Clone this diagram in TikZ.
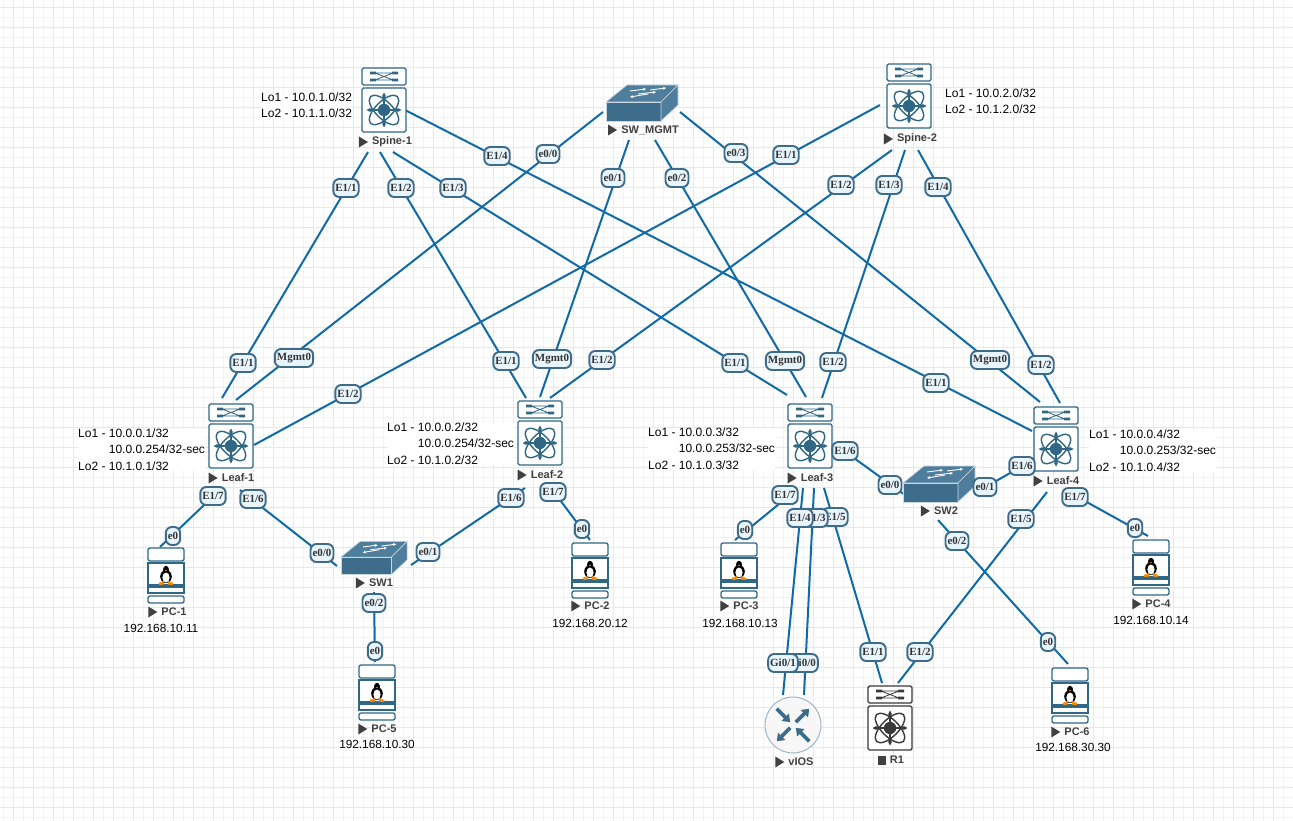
\documentclass[tikz,border=0pt]{standalone}
\usepackage{fontspec}
\setmainfont{Liberation Sans}
\newfontfamily\portfont{Liberation Serif}
\usetikzlibrary{arrows.meta}
\definecolor{linkc}{HTML}{0F6AA8}
\definecolor{devc}{HTML}{2F6785}
\definecolor{swfront}{HTML}{3E6D8C}
\definecolor{swtop}{HTML}{4E7E9C}
\definecolor{portb}{HTML}{3F6B8A}
\definecolor{portf}{HTML}{E9F5FD}
\definecolor{gmaj}{HTML}{E8E8E8}
\definecolor{gmin}{HTML}{F3F3F3}
\definecolor{darkdev}{HTML}{3A3A3A}
\tikzset{
  x=1pt,y=-1pt,
  link/.style={draw=linkc,line width=2pt},
  port/.style={draw=portb,fill=portf,line width=1.9pt,rounded corners=6pt,minimum height=18pt,inner sep=2pt,text=black!80,font=\portfont\bfseries\fontsize{11}{12}\selectfont},
  devname/.style={font=\bfseries\fontsize{11}{12}\selectfont,text=black!75,inner sep=0pt},
  ipt/.style={font=\fontsize{11.8}{13}\selectfont,text=black,inner sep=1pt},
  note/.style={fill=white,align=left,anchor=north west,inner sep=0pt,font=\fontsize{12}{16.6}\selectfont},
  anchorbox/.style={inner sep=0pt,minimum width=#1,minimum height=#1},
  pics/nexus/.style={code={
    \draw[#1,line width=1.4pt,rounded corners=1.5pt,fill=white] (-22,-42) rectangle (22,-25);
    \draw[#1,line width=1.4pt,rounded corners=1.5pt,fill=white] (-22,-22) rectangle (22,22);
    \draw[#1,line width=.8pt] (-9,-37) -- (9,-30) (-9,-30) -- (9,-37) (-14,-37) -- (14,-37) (-14,-30) -- (14,-30);
    \fill[#1] (-14,-38.4) rectangle (-8,-35.6) (8,-38.4) rectangle (14,-35.6) (-14,-31.4) rectangle (-8,-28.6) (8,-31.4) rectangle (14,-28.6);
    \draw[#1,line width=1.4pt,rotate=45] (0,0) ellipse (19 and 8.5);
    \draw[#1,line width=1.4pt,rotate=-45] (0,0) ellipse (19 and 8.5);
    \draw[#1,line width=1.1pt,-{Stealth[length=4.5pt,width=4.5pt]}] (0,0) -- (0,-17.5);
    \draw[#1,line width=1.1pt,-{Stealth[length=4.5pt,width=4.5pt]}] (0,0) -- (0,17.5);
    \draw[#1,line width=1.1pt,-{Stealth[length=4.5pt,width=4.5pt]}] (0,0) -- (-17.5,0);
    \draw[#1,line width=1.1pt,-{Stealth[length=4.5pt,width=4.5pt]}] (0,0) -- (17.5,0);
    \fill[#1] (0,0) circle (6.2);
  }},
  pics/swbox/.style={code={
    \fill[swtop,draw=white!70!swtop,line width=.6pt] (-36,-1) -- (-15,-18) -- (36,-18) -- (19,-1) -- cycle;
    \fill[swfront,draw=white!70!swtop,line width=.6pt] (-36,-1) rectangle (19,18);
    \fill[swtop,draw=white!70!swtop,line width=.6pt] (19,-1) -- (36,-18) -- (36,2) -- (19,18) -- cycle;
    \draw[white,line width=.9pt,-{Stealth[length=3pt,width=3pt]}] (-12,-12) -- (4,-14);
    \draw[white,line width=.9pt,-{Stealth[length=3pt,width=3pt]}] (8,-13) -- (24,-15);
    \draw[white,line width=.9pt,-{Stealth[length=3pt,width=3pt]}] (6,-9) -- (-12,-6);
    \draw[white,line width=.9pt,-{Stealth[length=3pt,width=3pt]}] (-4,-9) -- (14,-11);
  }},
  pics/tuxpc/.style={code={
    \draw[devc,line width=1.3pt,rounded corners=2pt,fill=white] (-18,-28) rectangle (18,-15);
    \draw[devc,line width=1.3pt,fill=white] (-18,-13) rectangle (18,9);
    \draw[devc,line width=1.3pt,fill=white] (-18,11) rectangle (18,17);
    \draw[devc,line width=1.3pt,rounded corners=2pt,fill=white] (-18,20) rectangle (18,27);
    \begin{scope}[yshift=-1pt]
    \fill[black] (0,-7.5) ellipse (3 and 3.7);
    \fill[black] (0,-0.5) ellipse (5.8 and 6.5);
    \fill[white] (0,0.5) ellipse (3.6 and 5);
    \fill[orange!90!yellow] (-7.5,6) -- (-1.8,4) -- (-2,7.5) -- (-6.5,8) -- cycle (7.5,6) -- (1.8,4) -- (2,7.5) -- (6.5,8) -- cycle;
    \fill[orange!90!yellow] (-1.2,-7.2) -- (1.2,-7.2) -- (0,-5.9) -- cycle;
    \end{scope}
  }},
  pics/vios/.style={code={
    \draw[white!50!swfront,line width=1pt,fill=black!3] (0,0) circle (28);
    \foreach \a in {45,225}{
      \draw[swfront,line width=3.6pt,-{Triangle[length=7pt,width=10pt]},rotate=\a] (4,0) -- (23,0);
    }
    \foreach \a in {135,315}{
      \draw[swfront,line width=3.6pt,-{Triangle[length=7pt,width=10pt]},rotate=\a] (23,0) -- (4,0);
    }
  }}
}
\newcommand{\playname}[4]{% name x y text
  \node[devname] (#1) at (#2,#3) {#4};
  \fill[black!75] ([xshift=-13pt,yshift=5.5pt]#1.west) -- ([xshift=-4pt]#1.west) -- ([xshift=-13pt,yshift=-5.5pt]#1.west) -- cycle;
}
\newcommand{\lnk}[6]{\draw[link] ([shift={(#2,#3)}]#1.center) -- ([shift={(#5,#6)}]#4.center);}
\begin{document}
\begin{tikzpicture}
\useasboundingbox (0,0) rectangle (1293,821);
\fill[white] (0,0) rectangle (1293,821);
% grid
\foreach \i in {0,...,64}{
  \draw[gmin,line width=.8pt] ({3.3+20*\i},0) -- ({3.3+20*\i},821);
  \draw[gmaj,line width=.9pt] ({13.3+20*\i},0) -- ({13.3+20*\i},821);
}
\foreach \i in {0,...,40}{
  \draw[gmin,line width=.8pt] (0,{17+20*\i}) -- (1293,{17+20*\i});
  \draw[gmaj,line width=.9pt] (0,{7+20*\i}) -- (1293,{7+20*\i});
}
% device anchors
\node[anchorbox=44pt] (spine1) at (384,110) {};
\node[anchorbox=44pt] (spine2) at (909,106) {};
\node[anchorbox=44pt] (leaf1) at (231,446) {};
\node[anchorbox=44pt] (leaf2) at (540,443) {};
\node[anchorbox=44pt] (leaf3) at (810,446) {};
\node[anchorbox=44pt] (leaf4) at (1056,449) {};
\node[anchorbox=44pt] (rone) at (890,728) {};
\node[anchorbox=56pt] (vios) at (793,725) {};
\node[anchorbox=36pt] (swmgmt) at (642,103) {};
\node[anchorbox=36pt] (swone) at (374,558) {};
\node[anchorbox=36pt] (swtwo) at (939,484) {};
\node[anchorbox=36pt] (pcone) at (166,576) {};
\node[anchorbox=36pt] (pctwo) at (590,571) {};
\node[anchorbox=36pt] (pcthree) at (739,571) {};
\node[anchorbox=36pt] (pcfour) at (1151,568) {};
\node[anchorbox=36pt] (pcfive) at (377,693) {};
\node[anchorbox=36pt] (pcsix) at (1070,696) {};
% notes
\node[note] at (261,92.5) {Lo1 - 10.0.1.0/32\\Lo2 - 10.1.1.0/32};
\node[note] at (945,88.5) {Lo1 - 10.0.2.0/32\\Lo2 - 10.1.2.0/32};
\node[note] at (78,428.5) {Lo1 - 10.0.0.1/32\\\phantom{Lo1 - }10.0.0.254/32-sec\\Lo2 - 10.1.0.1/32};
\node[note] at (387,422.5) {Lo1 - 10.0.0.2/32\\\phantom{Lo1 - }10.0.0.254/32-sec\\Lo2 - 10.1.0.2/32};
\node[note] at (648,427.5) {Lo1 - 10.0.0.3/32\\\phantom{Lo1 - }10.0.0.253/32-sec\\Lo2 - 10.1.0.3/32};
\node[note] at (1089,429.5) {Lo1 - 10.0.0.4/32\\\phantom{Lo1 - }10.0.0.253/32-sec\\Lo2 - 10.1.0.4/32};
% links
\lnk{spine1}{-16}{42}{leaf1}{-9}{-48}
\lnk{spine1}{-4}{42}{leaf2}{-14}{-45}
\lnk{spine1}{9}{42}{leaf3}{-23}{-51}
\lnk{spine1}{21}{0}{leaf4}{-24}{-18}
\lnk{spine2}{-29}{-1}{leaf1}{23}{-1}
\lnk{spine2}{-17}{44}{leaf2}{10}{-45}
\lnk{spine2}{-4}{44}{leaf3}{12}{-48}
\lnk{spine2}{9}{44}{leaf4}{4}{-46}
\lnk{swmgmt}{-39}{9}{leaf1}{5}{-46}
\lnk{swmgmt}{-13}{37}{leaf2}{0}{-46}
\lnk{swmgmt}{13}{37}{leaf3}{-4}{-49}
\lnk{swmgmt}{38}{9}{leaf4}{-16}{-47}
\lnk{leaf1}{-9}{42}{pcone}{-6}{-29}
\lnk{leaf1}{9}{44}{swone}{-37}{8}
\lnk{leaf2}{-15}{45}{swone}{37}{7}
\lnk{leaf2}{8}{41}{pctwo}{0}{-31}
\lnk{swone}{0}{34}{pcfive}{-2}{-31}
\lnk{leaf3}{-20}{49}{pcthree}{-4}{-31}
\lnk{leaf3}{-7}{42}{vios}{-10}{-30}
\lnk{leaf3}{4}{42}{vios}{11}{-30}
\lnk{leaf3}{14}{42}{rone}{-8}{-45}
\lnk{leaf3}{26}{-1}{swtwo}{-34}{11}
\lnk{swtwo}{36}{9}{leaf4}{-23}{11}
\lnk{swtwo}{-1}{36}{pcsix}{-2}{-32}
\lnk{leaf4}{-9}{43}{rone}{8}{-45}
\lnk{leaf4}{9}{41}{pcfour}{-3}{-32}
% devices
\pic at (spine1.center) {nexus=devc};
\pic at (spine2.center) {nexus=devc};
\pic at (leaf1.center) {nexus=devc};
\pic at (leaf2.center) {nexus=devc};
\pic at (leaf3.center) {nexus=devc};
\pic at (leaf4.center) {nexus=devc};
\pic at (rone.center) {nexus=darkdev};
\pic at (vios.center) {vios};
\pic at (swmgmt.center) {swbox};
\pic at (swone.center) [scale=.92] {swbox};
\pic at (swtwo.center) {swbox};
\pic at (pcone.center) {tuxpc};
\pic at (pctwo.center) {tuxpc};
\pic at (pcthree.center) {tuxpc};
\pic at (pcfour.center) {tuxpc};
\pic at (pcfive.center) {tuxpc};
\pic at (pcsix.center) {tuxpc};
% device names
\playname{nspine1}{392}{142}{Spine-1}
\playname{nspine2}{917}{139}{Spine-2}
\playname{nswmgmt}{650}{130}{SW\_MGMT}
\playname{nleaf1}{238}{478}{Leaf-1}
\playname{nleaf2}{547}{475}{Leaf-2}
\playname{nleaf3}{817}{478}{Leaf-3}
\playname{nleaf4}{1063}{481}{Leaf-4}
\playname{nswone}{381}{583}{SW1}
\playname{nswtwo}{946}{511}{SW2}
\playname{npcone}{174}{612}{PC-1}
\playname{npctwo}{597}{606}{PC-2}
\playname{npcthree}{746}{606}{PC-3}
\playname{npcfour}{1158}{604}{PC-4}
\playname{npcfive}{384}{729}{PC-5}
\playname{npcsix}{1077}{732}{PC-6}
\playname{nvios}{801}{762}{vIOS}
\node[devname] (nrone) at (897,760) {R1};
\fill[black!75] ([xshift=-12pt,yshift=-4.5pt]nrone.west) rectangle ([xshift=-4pt,yshift=4.5pt]nrone.west);
% IP labels
\node[ipt] (ipone) at (161,628) {192.168.10.11};
\node[ipt] (iptwo) at (590,623) {192.168.20.12};
\node[ipt] (ipthree) at (740,623) {192.168.10.13};
\node[ipt] (ipfour) at (1151,620) {192.168.10.14};
\node[ipt] (ipfive) at (377,744) {192.168.10.30};
\node[ipt] (ipsix) at (1073,747) {192.168.30.30};
% ports
\node[port] (p1) at (346,188) {E1/1};
\node[port] (p2) at (401,188) {E1/2};
\node[port] (p3) at (453,188) {E1/3};
\node[port] (p4) at (497,156) {E1/4};
\node[port] (p5) at (548,154) {e0/0};
\node[port] (p6) at (613,178) {e0/1};
\node[port] (p7) at (677,178) {e0/2};
\node[port] (p8) at (736,153) {e0/3};
\node[port] (p9) at (786,155) {E1/1};
\node[port] (p10) at (841,185) {E1/2};
\node[port] (p11) at (889,185) {E1/3};
\node[port] (p12) at (938,187) {E1/4};
\node[port] (p13) at (243,363) {E1/1};
\node[port] (p14) at (294,358) {Mgmt0};
\node[port] (p15) at (348,394) {E1/2};
\node[port] (p16) at (506,361) {E1/1};
\node[port] (p17) at (552,359) {Mgmt0};
\node[port] (p18) at (602,360) {E1/2};
\node[port] (p19) at (735,363) {E1/1};
\node[port] (p20) at (785,361) {Mgmt0};
\node[port] (p21) at (833,362) {E1/2};
\node[port] (p22) at (936,383) {E1/1};
\node[port] (p23) at (990,360) {Mgmt0};
\node[port] (p24) at (1041,365) {E1/2};
\node[port] (p25) at (213,496) {E1/7};
\node[port] (p26) at (253,499) {E1/6};
\node[port] (p27) at (173,536) {e0};
\node[port] (p28) at (322,553) {e0/0};
\node[port] (p29) at (428,552) {e0/1};
\node[port] (p30) at (374,603) {e0/2};
\node[port] (p31) at (375,651) {e0};
\node[port] (p32) at (511,498) {E1/6};
\node[port] (p33) at (553,492) {E1/7};
\node[port] (p34) at (582,529) {e0};
\node[port] (p35) at (785,495) {E1/7};
\node[port] (p36) at (745,530) {e0};
\node[port] (p37) at (835,517) {E1/5};
\node[port] (p38) at (815,518) {E1/3};
\node[port] (p39) at (800,518) {E1/4};
\node[port] (p40) at (845,451) {E1/6};
\node[port] (p41) at (890,485) {e0/0};
\node[port] (p42) at (985,487) {e0/1};
\node[port] (p43) at (1022,466) {E1/6};
\node[port] (p44) at (957,541) {e0/2};
\node[port] (p45) at (1048,642) {e0};
\node[port] (p46) at (1021,519) {E1/5};
\node[port] (p47) at (1075,497) {E1/7};
\node[port] (p48) at (1135,528) {e0};
\node[port] (p49) at (873,652) {E1/1};
\node[port] (p50) at (920,652) {E1/2};
\node[port] (p51) at (803,663) {Gi0/0};
\node[port] (p52) at (783,663) {Gi0/1};
\end{tikzpicture}
\end{document}
